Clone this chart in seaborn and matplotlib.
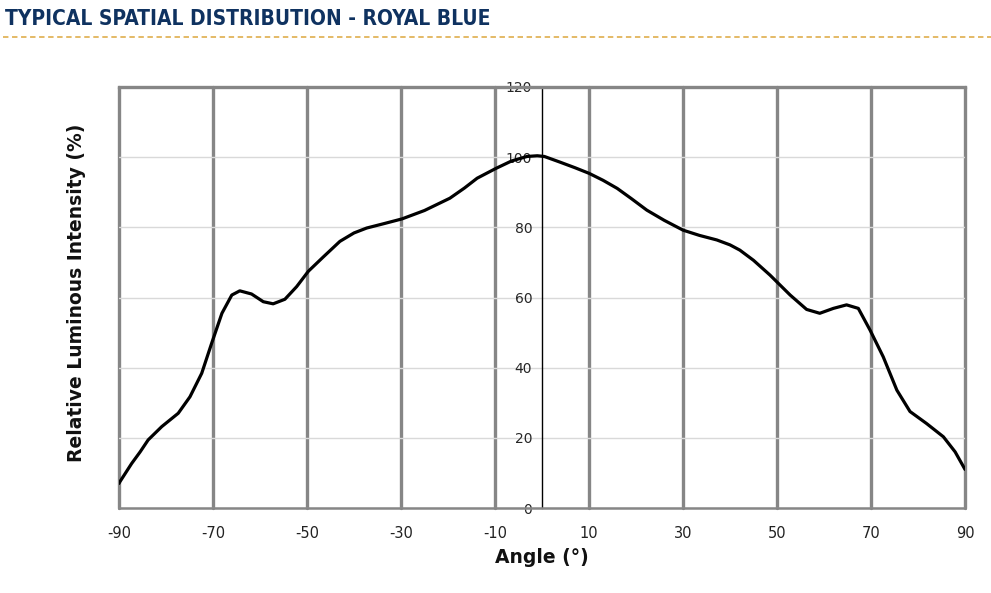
import seaborn as sns
import matplotlib.pyplot as plt
import pandas as pd

# values
angle = [-90, -89.8, -87.3, -85.5, -83.8, -80.9, -77.4, -74.9, -72.4, -70.3, -68.1,
         -66.0, -64.3, -61.8, -59.3, -57.2, -54.7, -52.2, -49.7, -46.5, -43, -40,
         -37.3, -33.5, -29.8, -25, -19.6, -16.5, -13.8, -9.8, -6.5, -3.2, -1, 0.5, 3.8,
         7, 10, 13, 16, 19, 22.3, 26, 30, 33.5, 37.2, 40, 42.1, 45, 48.5, 52.8, 56.3,
         59.1, 62.0, 64.8, 67.3, 69.8, 72.6, 75.5, 78.3, 81.8, 85.4, 87.9, 90]
intensity = [7.0, 7.5, 12.7, 16.0, 19.4, 23.2, 27.0, 31.7, 38.4, 46.9, 55.5,
             60.7, 61.9, 61.0, 58.8, 58.2, 59.5, 63.1, 67.5, 71.6, 76.0, 78.4,
             79.8, 81.1, 82.4, 84.8, 88.3, 91.2, 94.0, 96.8, 98.9, 100.2, 100.4, 100.2, 98.6,
             97.0, 95.4, 93.4, 91.1, 88.2, 84.9, 82.0, 79.2, 77.7, 76.4, 75.0, 73.5, 70.6,
             66.4, 60.7, 56.6, 55.5, 56.9, 57.9, 56.9, 50.7, 43.1, 33.6, 27.5, 24.1, 20.3,
             16.0, 11.0]

x_ticks = [-90, -70, -50, -30, -10, 10, 30, 50, 70, 90]
y_ticks = [0, 20, 40, 60, 80, 100, 120]

df = pd.DataFrame({"angle": angle, "intensity": intensity})

sns.set_style("white")
plt.rcParams['font.family'] = ['DejaVu Sans']

fig = plt.figure(figsize=(9.91, 5.93), dpi=100)
ax = fig.add_axes([119 / 991, 1 - 508 / 593, (965 - 119) / 991, (508 - 87) / 593])

sns.lineplot(data=df, x="angle", y="intensity", color="black", linewidth=2.3, ax=ax)

ax.set_xlim(-90, 90)
ax.set_ylim(0, 120)
ax.set_xticks(x_ticks)
ax.set_yticks(y_ticks)
ax.set_xticklabels([str(t) for t in x_ticks], fontsize=10.5, color="#222222")
ax.set_yticklabels([str(t) for t in y_ticks], fontsize=10.5, color="#222222")

# vertical thick grey grid, thin light horizontal grid
ax.xaxis.grid(True, color="#868686", linewidth=2.4)
ax.yaxis.grid(True, color="#d9d9d9", linewidth=1)
ax.set_axisbelow(True)
for gl in ax.get_xgridlines():
    gl.set_clip_on(False)

ax.spines['left'].set_position(('data', 0))
ax.spines['left'].set_color("black")
ax.spines['left'].set_linewidth(1)
ax.spines['right'].set_visible(False)
ax.spines['top'].set_color("#868686")
ax.spines['top'].set_linewidth(2.4)
ax.spines['bottom'].set_color("#868686")
ax.spines['bottom'].set_linewidth(1.8)

ax.tick_params(axis='y', direction='out', length=5, width=1, color="black", pad=2)
ax.tick_params(axis='x', direction='out', length=5, width=1.8, color="#868686", pad=8)

ax.set_xlabel("Angle (°)", fontsize=13.5, fontweight="bold", color="#111111", labelpad=5)
ax.set_ylabel("")
fig.text(77 / 991, 1 - 293 / 593, "Relative Luminous Intensity (%)", rotation=90,
         fontsize=13.5, fontweight="bold", color="#111111", ha="center", va="center")

# header
fig.text(5 / 991, 1 - 19 / 593, "TYPICAL SPATIAL DISTRIBUTION - ROYAL BLUE",
         fontsize=15, fontweight="bold", fontstretch="condensed", color="#0f3260",
         ha="left", va="center")
fig.add_artist(plt.Line2D([3 / 991, 1], [1 - 37 / 593, 1 - 37 / 593], color="#e2b45a",
                          linewidth=1.3, linestyle=(0, (3, 2)), transform=fig.transFigure))

fig.savefig("out.png", dpi=100)
